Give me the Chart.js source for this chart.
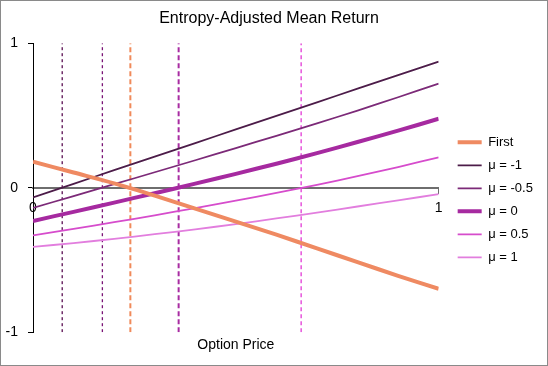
<!DOCTYPE html>
<html>
<head>
<meta charset="utf-8">
<script src="https://cdn.jsdelivr.net/npm/chart.js@4"></script>
<style>
  html, body { margin: 0; padding: 0; background: #fff; }
  #wrap { width: 548px; height: 366px; box-sizing: border-box; border: 1px solid #8a8a8a; }
</style>
</head>
<body>
<div id="wrap"><canvas id="chart" width="546" height="364"></canvas></div>
<script>
// option price grid
const prices = [0, 0.1, 0.2, 0.3, 0.4, 0.5, 0.6, 0.7, 0.8, 0.9, 1];

// series values
const first   = [0.18, 0.105, 0.03, -0.055, -0.145, -0.235, -0.325, -0.42, -0.515, -0.61, -0.70];
const muNeg1  = [-0.067, 0.027, 0.121, 0.215, 0.309, 0.403, 0.497, 0.591, 0.685, 0.779, 0.873];
const muNeg05 = [-0.14, -0.058, 0.024, 0.107, 0.19, 0.274, 0.359, 0.445, 0.534, 0.626, 0.72];
const mu0     = [-0.23, -0.167, -0.103, -0.038, 0.028, 0.096, 0.166, 0.239, 0.316, 0.395, 0.477];
const mu05    = [-0.33, -0.285, -0.239, -0.191, -0.141, -0.089, -0.036, 0.02, 0.08, 0.143, 0.21];
const mu1     = [-0.41, -0.383, -0.354, -0.322, -0.288, -0.252, -0.213, -0.172, -0.13, -0.088, -0.044];

// where each curve crosses zero (dashed markers)
const crossings = [0.072, 0.171, 0.240, 0.359, 0.661];

const yTicks = [-1, 0, 1];

const FONT = '"Liberation Sans", Arial, sans-serif';

const series = [
  { label: 'First',    data: first,   color: '#ef8a62', width: 4 },
  { label: 'μ = -1',   data: muNeg1,  color: '#4c1c49', width: 1.8 },
  { label: 'μ = -0.5', data: muNeg05, color: '#7c2a78', width: 1.8 },
  { label: 'μ = 0',    data: mu0,     color: '#a62aa0', width: 4 },
  { label: 'μ = 0.5',  data: mu05,    color: '#d64ccc', width: 1.8 },
  { label: 'μ = 1',    data: mu1,     color: '#e27ede', width: 1.8 }
];

// dashed verticals: colour, width, dash
const markers = [
  { color: '#5a0f52', width: 1.3, dash: [3, 3] },
  { color: '#7a1476', width: 1.3, dash: [3, 3] },
  { color: '#f08a5a', width: 2,   dash: [5, 3] },
  { color: '#a82ca2', width: 2,   dash: [5, 3] },
  { color: '#e23ad6', width: 1.3, dash: [4, 3] }
];

const datasets = series.map(s => ({
  label: s.label,
  data: prices.map((p, i) => ({ x: p, y: s.data[i] })),
  borderColor: s.color,
  backgroundColor: s.color,
  borderWidth: s.width,
  pointRadius: 0,
  tension: 0.3
}));

crossings.forEach((c, i) => {
  datasets.push({
    label: 'marker' + i,
    data: [{ x: c, y: -1 }, { x: c, y: 1 }],
    borderColor: markers[i].color,
    borderWidth: markers[i].width,
    borderDash: markers[i].dash,
    pointRadius: 0
  });
});

new Chart(document.getElementById('chart').getContext('2d'), {
  type: 'line',
  data: { datasets },
  options: {
    responsive: false,
    animation: false,
    layout: { padding: { left: 0, right: 10, top: 0, bottom: 0 } },
    plugins: {
      title: {
        display: true,
        text: 'Entropy-Adjusted Mean Return',
        color: '#000',
        font: { family: FONT, size: 16, weight: 'normal' },
        padding: { top: 8, bottom: 15 }
      },
      subtitle: {
        display: true,
        position: 'bottom',
        fullSize: false,
        text: 'Option Price',
        color: '#000',
        font: { family: FONT, size: 14 },
        padding: { top: 5, bottom: 11 }
      },
      legend: {
        position: 'right',
        fullSize: false,
        title: { display: true, text: '', font: { size: 1 }, padding: { top: 13, bottom: 10 } },
        labels: {
          filter: item => item.datasetIndex < series.length,
          usePointStyle: true,
          pointStyle: 'line',
          pointStyleWidth: 24,
          color: '#000',
          padding: 10,
          font: { family: FONT, size: 13 }
        }
      },
      tooltip: { enabled: false }
    },
    scales: {
      x: {
        type: 'linear',
        position: { y: 0 },
        min: 0,
        max: 1,
        border: { color: '#6e6e6e', width: 2 },
        grid: { drawOnChartArea: false, color: '#6e6e6e', tickLength: 5 },
        ticks: { stepSize: 1, color: '#000', padding: 7, font: { family: FONT, size: 14 } }
      },
      y: {
        min: -1,
        max: 1,
        afterFit: s => { s.width = 32; },
        afterBuildTicks: s => { s.ticks = yTicks.map(v => ({ value: v })); },
        border: { color: '#000', width: 1 },
        grid: { drawOnChartArea: false, color: '#000', tickLength: 5 },
        ticks: { color: '#000', padding: 10, font: { family: FONT, size: 14 } }
      },
      // empty right-hand gap between plot and legend
      gap: {
        axis: 'y',
        position: 'right',
        min: -1,
        max: 1,
        afterFit: s => { s.width = 9; },
        border: { display: false },
        grid: { display: false },
        ticks: { display: false }
      }
    }
  }
});
</script>
</body>
</html>
